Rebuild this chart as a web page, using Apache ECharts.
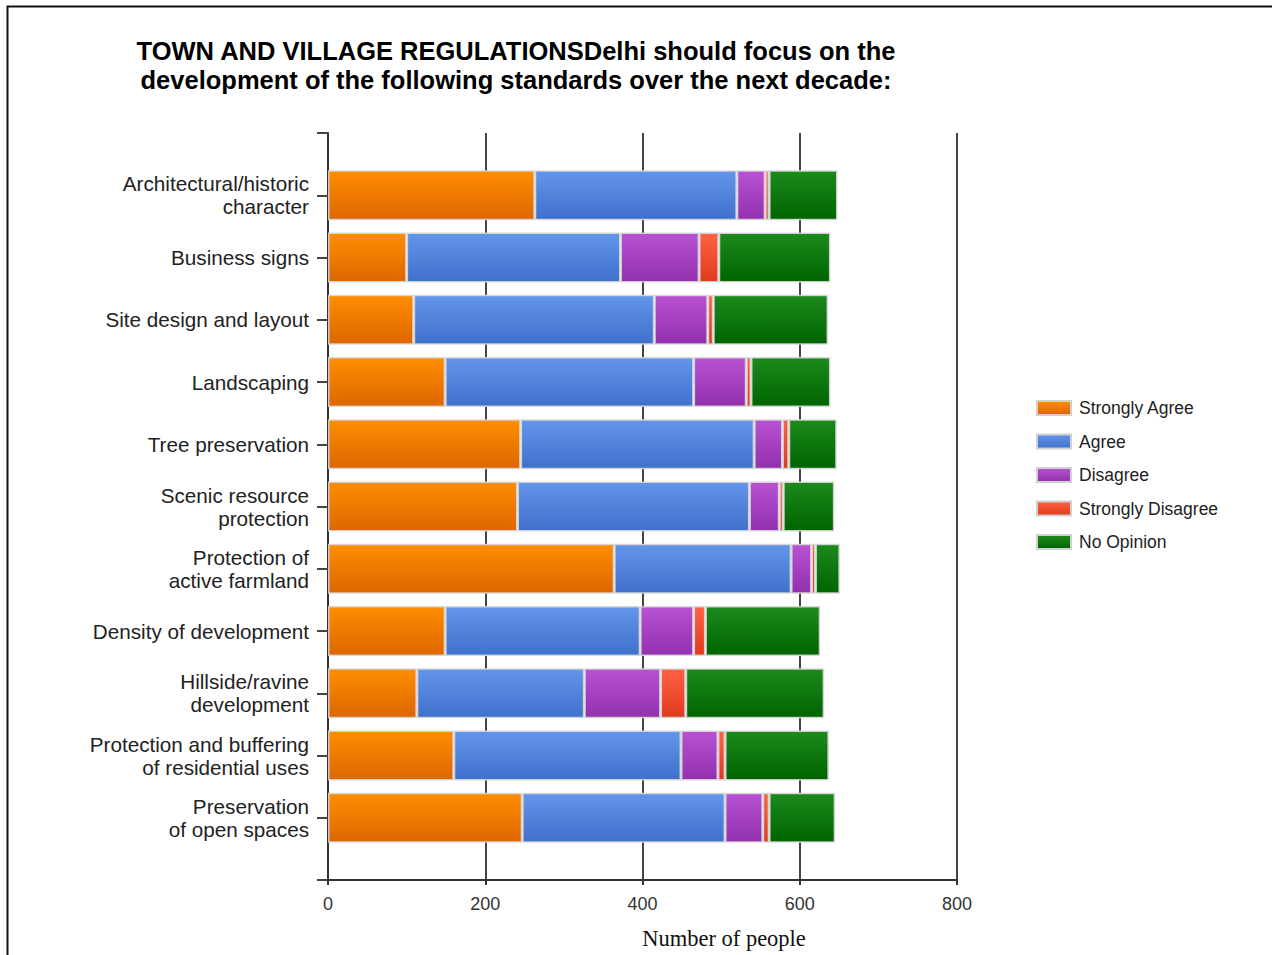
<!DOCTYPE html>
<html>
<head>
<meta charset="utf-8">
<title>Town and village regulations</title>
<script src="https://cdn.jsdelivr.net/npm/echarts@6/dist/echarts.min.js"></script>
<style>
  html, body { margin: 0; padding: 0; background: #fff; }
  #chart { width: 1272px; height: 955px; }
</style>
</head>
<body>
<div id="chart"></div>
<script>
// Survey topics (top to bottom)
const categories = [
  'Architectural/historic\ncharacter',
  'Business signs',
  'Site design and layout',
  'Landscaping',
  'Tree preservation',
  'Scenic resource\nprotection',
  'Protection of\nactive farmland',
  'Density of development',
  'Hillside/ravine\ndevelopment',
  'Protection and buffering\nof residential uses',
  'Preservation\nof open spaces'
];

// Number of respondents per answer
const stronglyAgree    = [263, 100, 109, 149, 245, 241, 364, 149, 113, 160, 247];
const agree            = [257, 272, 306, 316, 297, 295, 225, 248, 213, 289, 258];
const disagree         = [ 36, 100,  68,  67,  36,  38,  26,  68,  97,  47,  48];
const stronglyDisagree = [  5,  25,   7,   6,   8,   5,   5,  15,  32,   9,   8];
const noOpinion        = [ 87, 142, 146, 101,  61,  65,  31, 146, 176, 132,  84];

const seriesNames = ['Strongly Agree', 'Agree', 'Disagree', 'Strongly Disagree', 'No Opinion'];
const xTicks = [0, 200, 400, 600, 800];

const titleLines = [
  'TOWN AND VILLAGE REGULATIONSDelhi should focus on the',
  'development of the following standards over the next decade:'
];
const xAxisTitle = 'Number of people';

// Vertical gradients per answer (light top, darker bottom)
const palette = [
  ['#ff8d00', '#de6600'],
  ['#6396ea', '#3f70cc'],
  ['#b852d2', '#9230ae'],
  ['#ff6242', '#de3a1c'],
  ['#1c8a1c', '#006400']
];

function grad(c) {
  return new echarts.graphic.LinearGradient(0, 0, 0, 1, [
    { offset: 0, color: c[0] },
    { offset: 1, color: c[1] }
  ]);
}

// One empty slot above and below the topics for padding along the axis
const pad = arr => [null, ...arr, null];
const yCats = ['', ...categories, ''];

const values = [stronglyAgree, agree, disagree, stronglyDisagree, noOpinion];

const sans = '"Liberation Sans", Arial, Helvetica, sans-serif';

const chart = echarts.init(document.getElementById('chart'), null, { renderer: 'svg' });

chart.setOption({
  animation: false,
  backgroundColor: '#ffffff',
  grid: { left: 328, right: 315, top: 133, bottom: 75, containLabel: false },
  legend: {
    orient: 'vertical',
    left: 1031,
    top: 394,
    itemWidth: 34,
    itemHeight: 14,
    itemGap: 15.5,
    icon: 'rect',
    data: seriesNames,
    itemStyle: { borderColor: '#d0d0d0', borderWidth: 2 },
    textStyle: { fontFamily: sans, fontSize: 17.5, color: '#222', padding: [0, 0, 0, 3] }
  },
  xAxis: {
    type: 'value',
    min: xTicks[0],
    max: xTicks[xTicks.length - 1],
    interval: 200,
    axisLine: { show: true, lineStyle: { color: '#333', width: 2 } },
    axisTick: { show: true, length: 5, lineStyle: { color: '#333', width: 2 } },
    axisLabel: { fontFamily: sans, fontSize: 18, color: '#333', margin: 15 },
    splitLine: { show: true, lineStyle: { color: '#444', width: 2 } }
  },
  yAxis: {
    type: 'category',
    inverse: true,
    boundaryGap: false,
    data: yCats,
    axisLine: { show: true, lineStyle: { color: '#333', width: 2 } },
    axisTick: { show: true, length: 11, lineStyle: { color: '#444', width: 2 } },
    axisLabel: {
      fontFamily: sans,
      fontSize: 20.7,
      lineHeight: 23,
      color: '#222',
      margin: 19,
      align: 'right',
      interval: 0
    },
    splitLine: { show: false }
  },
  series: seriesNames.map((name, i) => ({
    name: name,
    type: 'bar',
    stack: 'total',
    barWidth: 50,
    data: pad(values[i]),
    itemStyle: {
      color: grad(palette[i]),
      borderColor: 'rgba(215,215,215,0.9)',
      borderWidth: 1.5
    },
    emphasis: { disabled: true }
  })),
  graphic: [
    {
      type: 'rect',
      silent: true,
      shape: { x: 7.5, y: 6.5, width: 1400, height: 1100 },
      style: { fill: 'none', stroke: '#111', lineWidth: 2 }
    },
    {
      type: 'text',
      x: 516,
      y: 51,
      style: {
        text: titleLines[0],
        font: 'bold 25.5px ' + sans,
        fill: '#000',
        textAlign: 'center',
        textVerticalAlign: 'middle'
      }
    },
    {
      type: 'text',
      x: 516,
      y: 80,
      style: {
        text: titleLines[1],
        font: 'bold 25.5px ' + sans,
        fill: '#000',
        textAlign: 'center',
        textVerticalAlign: 'middle'
      }
    },
    {
      type: 'text',
      x: 724,
      y: 938,
      style: {
        text: xAxisTitle,
        font: '22.5px "Liberation Serif", "DejaVu Serif", serif',
        fill: '#111',
        textAlign: 'center',
        textVerticalAlign: 'middle'
      }
    }
  ]
});
</script>
</body>
</html>
